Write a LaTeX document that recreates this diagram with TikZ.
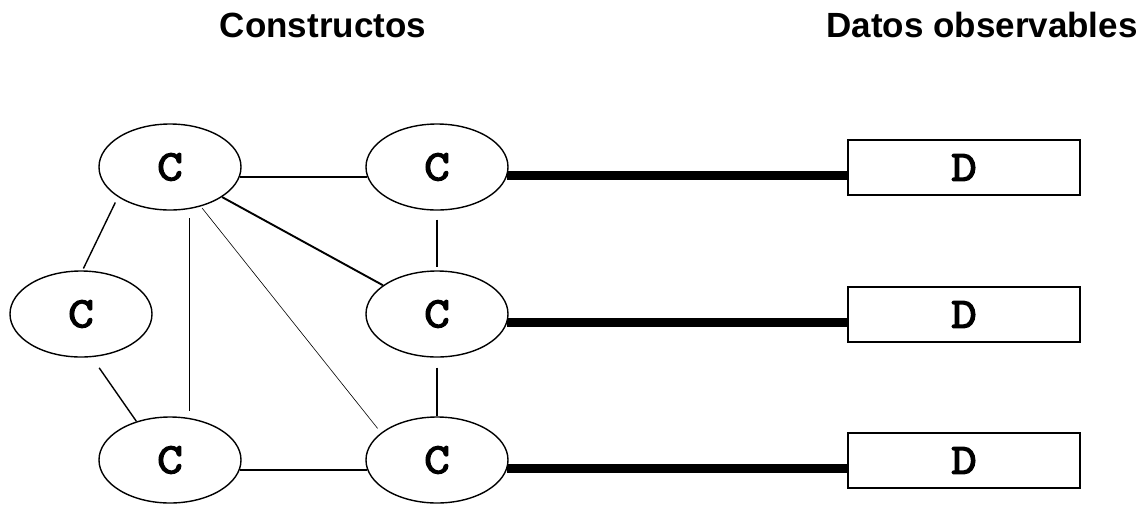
\documentclass[tikz,border=0pt]{standalone}
\usepackage{fontspec}
\setmainfont{Liberation Sans}
\newfontfamily\cmono[FakeBold=3.5,FakeStretch=1.15]{Latin Modern Mono}
\usetikzlibrary{shapes.geometric}
\begin{document}
\begin{tikzpicture}[x=1pt,y=-1pt,
  construct/.style={draw, ellipse, line width=1.4pt, minimum width=142pt,
    minimum height=86pt, inner sep=0pt,
    font=\fontsize{43}{45}\selectfont\cmono},
  datum/.style={draw, rectangle, line width=1.7pt, minimum width=232pt,
    minimum height=55pt, inner sep=0pt,
    font=\fontsize{43}{45}\selectfont\cmono},
  heading/.style={anchor=base, font=\fontsize{35}{40}\selectfont\bfseries},
  link/.style={line width=1.4pt},
  thinlink/.style={line width=0.6pt},
  midlink/.style={line width=1.9pt},
  loading/.style={line width=9pt, line cap=butt}]
\useasboundingbox (0,0) rectangle (1146,504);

% headings
\node[heading] (hc) at (323,37) {Constructos};
\node[heading] (hd) at (982,37) {Datos observables};

% constructs
\node[construct] (tl) at (170,167) {C};
\node[construct] (tm) at (437,167) {C};
\node[construct] (ml) at (81,314)  {C};
\node[construct] (mm) at (437,314) {C};
\node[construct] (bl) at (170,460) {C};
\node[construct] (bm) at (437,460) {C};

% observable data
\node[datum] (d1) at (964,167.5) {D};
\node[datum] (d2) at (964,314.5) {D};
\node[datum] (d3) at (964,460.5) {D};

% relations among constructs
\draw[link] (tl.-8) -- (tm.188);
\draw[link] (bl.-8) -- (bm.188);
\draw[link, shorten <=9pt, shorten >=3pt] (tm.south) -- (mm.north);
\draw[link, shorten <=10pt] (mm.south) -- (bm.north);
\draw[link, shorten <=6pt, shorten >=2pt] (tl.210.5) -- (ml.88.6);
\draw[link, shorten <=13pt] (ml.-76.4) -- (bl.131);
\draw[link, shorten <=9pt, shorten >=6.5pt] (tl.-65.4) -- (bl.65.4);
\draw[midlink] (tl.-30.5) -- (mm.152.6);
\draw[thinlink, shorten <=2pt, shorten >=5.5pt] (tl.-52.4) -- (bm.154.4);

% constructs to data
\draw[loading] (tm.-7.5) -- (tm.-7.5 -| d1.west);
\draw[loading] (mm.-7.5) -- (mm.-7.5 -| d2.west);
\draw[loading] (bm.-7.5) -- (bm.-7.5 -| d3.west);
\end{tikzpicture}
\end{document}
